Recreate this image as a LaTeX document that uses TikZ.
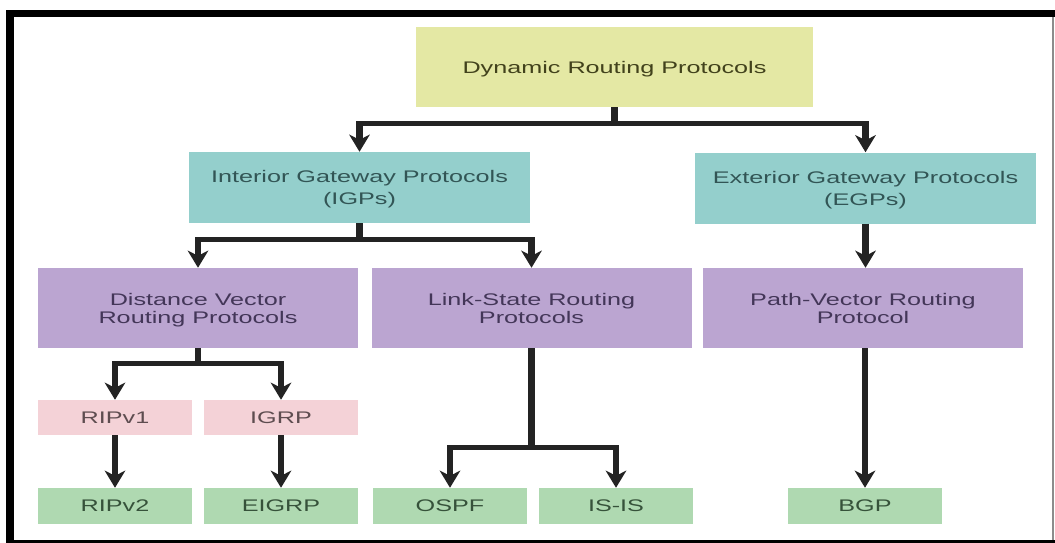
\documentclass[tikz,border=0pt]{standalone}
\usepackage{fontspec}
\setmainfont{Liberation Sans}
\usetikzlibrary{arrows.meta}

\definecolor{dynfill}{HTML}{E4E8A4}
\definecolor{dyntext}{HTML}{42421C}
\definecolor{gwfill}{HTML}{94CFCC}
\definecolor{gwtext}{HTML}{325555}
\definecolor{famfill}{HTML}{BBA5D1}
\definecolor{famtext}{HTML}{433658}
\definecolor{oldfill}{HTML}{F4D2D7}
\definecolor{oldtext}{HTML}{5E4D50}
\definecolor{newfill}{HTML}{AFD9B1}
\definecolor{newtext}{HTML}{36523A}
\definecolor{linec}{HTML}{232323}

\tikzset{
  protobox/.style={inner sep=0pt, align=center, text depth=0pt},
  dynbox/.style={protobox, fill=dynfill, text=dyntext,
    minimum width=264.67pt, minimum height=80pt,
    font=\fontsize{16.8}{20}\selectfont},
  gwbox/.style={protobox, fill=gwfill, text=gwtext,
    minimum width=227.33pt, minimum height=71pt,
    font=\fontsize{16.8}{22}\selectfont},
  fambox/.style={protobox, fill=famfill, text=famtext,
    minimum width=213.33pt, minimum height=80pt,
    font=\fontsize{16.8}{18}\selectfont},
  oldbox/.style={protobox, fill=oldfill, text=oldtext,
    minimum width=102.67pt, minimum height=35pt,
    font=\fontsize{16.8}{18}\selectfont},
  newbox/.style={protobox, fill=newfill, text=newtext,
    minimum width=102.67pt, minimum height=36pt,
    font=\fontsize{16.8}{18}\selectfont},
  link/.style={draw=linec, line width=4.6pt},
  conn/.style={link, -{Stealth[length=17pt, width=13.5pt, inset=5pt]}},
}

\begin{document}
\begin{tikzpicture}[x=1pt, y=-1pt]
\useasboundingbox (0,0) rectangle (1055,543);
\fill[white] (0,0) rectangle (1055,543);

% page frame
\fill[black] (6,10) rectangle (1055,17);
\fill[black] (6,10) rectangle (14,543);
\fill[black] (6,539.5) rectangle (1055,543);
\draw[black!45, line width=1.5pt] (1053,17) -- (1053,540);

% the chart itself is drawn narrow and stretched sideways
\begin{scope}[x=0.666667pt, y=-1pt, transform canvas={xscale=1.5}]
  \node[dynbox] (dyn) at (614.5,67) {Dynamic Routing Protocols};

  \node[gwbox] (igp) at (359.5,187.5) {Interior Gateway Protocols\\(IGPs)};
  \node[gwbox] (egp) at (865.5,188) {Exterior Gateway Protocols\\(EGPs)};

  \node[fambox] (dv) at (198,308) {Distance Vector\\Routing Protocols};
  \node[fambox] (ls) at (531.5,308) {Link-State Routing\\Protocols};
  \node[fambox] (pv) at (863,308) {Path-Vector Routing\\Protocol};

  \node[oldbox] (rip1) at (115,417.5) {RIPv1};
  \node[oldbox] (igrp) at (281,417.5) {IGRP};

  \node[newbox] (rip2) at (115,506) {RIPv2};
  \node[newbox] (eigrp) at (281,506) {EIGRP};
  \node[newbox] (ospf) at (450,506) {OSPF};
  \node[newbox] (isis) at (616,506) {IS-IS};
  \node[newbox] (bgp) at (865,506) {BGP};

  % branch points
  \coordinate (jdyn) at ([yshift=-16pt]dyn.south);
  \coordinate (jigp) at ([yshift=-16pt]igp.south);
  \coordinate (jdv) at ([yshift=-15pt]dv.south);
  \coordinate (jls) at ([yshift=-99pt]ls.south);

  \draw[conn] (dyn.south) -- (jdyn) -| (igp.north);
  \draw[conn] (jdyn) -| (egp.north);

  \draw[conn] (igp.south) -- (jigp) -| (dv.north);
  \draw[conn] (jigp) -| (ls.north);

  \draw[conn] (egp.south) -- (egp.south |- pv.north);

  \draw[conn] (dv.south) -- (jdv) -| (rip1.north);
  \draw[conn] (jdv) -| (igrp.north);

  \draw[conn] (ls.south) -- (jls) -| (ospf.north);
  \draw[conn] (jls) -| (isis.north);

  \draw[conn] (bgp.north |- pv.south) -- (bgp.north);

  \draw[conn] (rip1.south) -- (rip2.north);
  \draw[conn] (igrp.south) -- (eigrp.north);
\end{scope}
\end{tikzpicture}
\end{document}
